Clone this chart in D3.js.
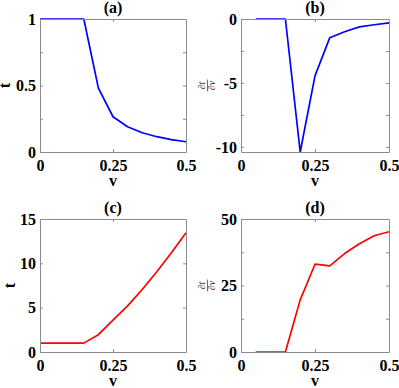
<!DOCTYPE html>
<html>
<head>
  <style>
    body { margin: 0; background: #ffffff; }
    svg { display: block; }
    svg text { font-family: "Liberation Serif", "Times New Roman", Times, "DejaVu Serif", serif; }
  </style>
</head>
<body>
  <div id="chart"></div>

  <script src="https://d3js.org/d3.v7.min.js"></script>
  <script>
    // v values for t, and for the derivative (starts one step later)
    var vFull = [0, 0.05, 0.1, 0.15, 0.2, 0.25, 0.3, 0.35, 0.4, 0.45, 0.5];
    var vDeriv = [0.05, 0.1, 0.15, 0.2, 0.25, 0.3, 0.35, 0.4, 0.45, 0.5];

    // panel series
    var tA = [1, 1, 1, 1, 0.48, 0.265, 0.19, 0.145, 0.115, 0.093, 0.077];
    var dtA = [0, 0, 0, -10.4, -4.45, -1.46, -1.0, -0.62, -0.45, -0.3];
    var tC = [1, 1, 1, 1, 1.95, 3.6, 5.2, 7.05, 9.05, 11.2, 13.45];
    var dtC = [0, 0, 0, 19.6, 33, 32.4, 37, 40.7, 43.7, 45.2];

    // ticks
    var xTicks = [0, 0.25, 0.5];
    var xTickLabels = ["0", "0.25", "0.5"];
    var yTicksA = [0, 0.25, 0.5, 0.75, 1];
    var yLabelsA = ["0", "", "0.5", "", "1"];
    var yTicksB = [-10, -7.5, -5, -2.5, 0];
    var yLabelsB = ["-10", "", "-5", "", "0"];
    var yTicksC = [0, 5, 10, 15];
    var yLabelsC = ["0", "5", "10", "15"];
    var yTicksD = [0, 12.5, 25, 37.5, 50];
    var yLabelsD = ["0", "", "25", "", "50"];

    var panels = [
      { title: "(a)", x: vFull, y: tA, domain: [0, 1], ticks: yTicksA, labels: yLabelsA,
        color: "#0000ff", left: 40, top: 19, w: 146, ylab: "t", ylabX: 10 },
      { title: "(b)", x: vDeriv, y: dtA, domain: [-10.4, 0], ticks: yTicksB, labels: yLabelsB,
        color: "#0000ff", left: 241, top: 19, w: 148, ylab: "frac", ylabX: 207 },
      { title: "(c)", x: vFull, y: tC, domain: [0, 15], ticks: yTicksC, labels: yLabelsC,
        color: "#ff0000", left: 40, top: 219, w: 146, ylab: "t", ylabX: 15 },
      { title: "(d)", x: vDeriv, y: dtC, domain: [0, 50], ticks: yTicksD, labels: yLabelsD,
        color: "#ff0000", left: 241, top: 219, w: 148, ylab: "frac", ylabX: 207 }
    ];

    var width = 399, height = 388, plotH = 133;
    var font = "Liberation Serif";
    var axisColor = "#8c8c8c";

    var svg = d3.select("#chart").append("svg")
      .attr("width", width)
      .attr("height", height);

    function styleText(sel, size) {
      sel.attr("font-family", font)
        .style("font-family", font)
        .style("font-weight", "bold")
        .style("font-size", size + "px");
    }

    panels.forEach(function(p) {
      var g = svg.append("g").attr("transform", "translate(" + p.left + "," + p.top + ")");

      var x = d3.scaleLinear().domain([0, 0.5]).range([0, p.w]);
      var y = d3.scaleLinear().domain(p.domain).range([plotH, 0]);

      var line = d3.line()
        .x(function(d, i) { return x(p.x[i]); })
        .y(function(d) { return y(d); });

      g.append("path")
        .datum(p.y)
        .attr("fill", "none")
        .attr("stroke", p.color)
        .attr("stroke-width", 1.7)
        .attr("stroke-linejoin", "round")
        .attr("d", line);

      // axes with inward ticks on all four sides
      var bottom = g.append("g").attr("transform", "translate(0," + plotH + ")")
        .call(d3.axisBottom(x).tickValues(xTicks)
          .tickFormat(function(d, i) { return xTickLabels[i]; })
          .tickSizeInner(-3).tickSizeOuter(0).tickPadding(8));
      var top = g.append("g")
        .call(d3.axisTop(x).tickValues(xTicks).tickFormat("")
          .tickSizeInner(-3).tickSizeOuter(0));
      var left = g.append("g")
        .call(d3.axisLeft(y).tickValues(p.ticks)
          .tickFormat(function(d, i) { return p.labels[i]; })
          .tickSizeInner(-3).tickSizeOuter(0).tickPadding(4));
      var right = g.append("g").attr("transform", "translate(" + p.w + ",0)")
        .call(d3.axisRight(y).tickValues(p.ticks).tickFormat("")
          .tickSizeInner(-3).tickSizeOuter(0));

      [bottom, top, left, right].forEach(function(a) {
        a.attr("font-family", font);
        a.selectAll("path, line").attr("stroke", axisColor).attr("stroke-width", 1);
        styleText(a.selectAll("text").attr("fill", "#000"), 16);
      });
      // no tick marks at the box corners
      bottom.selectAll(".tick line").filter(function(d) { return d === 0 || d === 0.5; }).remove();
      top.selectAll(".tick line").filter(function(d) { return d === 0 || d === 0.5; }).remove();

      // title
      styleText(g.append("text")
        .attr("x", p.w / 2)
        .attr("y", -6)
        .attr("text-anchor", "middle")
        .text(p.title), 16);

      // x label
      styleText(g.append("text")
        .attr("x", p.w / 2)
        .attr("y", plotH + 34)
        .attr("text-anchor", "middle")
        .text("v"), 16);

      // y label
      var cy = p.top + plotH / 2;
      if (p.ylab === "t") {
        styleText(svg.append("text")
          .attr("transform", "translate(" + p.ylabX + "," + cy + ") rotate(-90)")
          .attr("text-anchor", "middle")
          .text("t"), 16);
      } else {
        var fr = svg.append("g")
          .attr("transform", "translate(" + p.ylabX + "," + cy + ") rotate(-90)")
          .attr("font-family", font)
          .style("font-size", "10px")
          .attr("fill", "#333");
        var num = fr.append("text").attr("x", 0).attr("y", -2).attr("text-anchor", "middle");
        num.append("tspan").text("\u2202");
        num.append("tspan").style("font-style", "italic").text("t");
        fr.append("line")
          .attr("x1", -6).attr("x2", 6)
          .attr("y1", 0.5).attr("y2", 0.5)
          .attr("stroke", "#333").attr("stroke-width", 0.7);
        var den = fr.append("text").attr("x", 0).attr("y", 8).attr("text-anchor", "middle");
        den.append("tspan").text("\u2202");
        den.append("tspan").style("font-style", "italic").text("v");
      }
    });
  </script>
</body>
</html>
